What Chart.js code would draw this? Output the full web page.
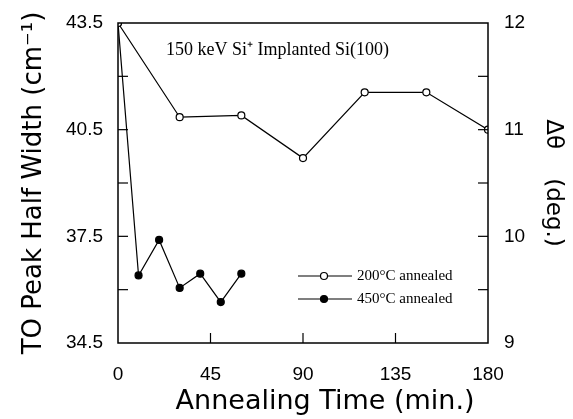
<!DOCTYPE html>
<html>
<head>
<meta charset="utf-8">
<script src="https://cdn.jsdelivr.net/npm/chart.js@4"></script>
<style>
    html, body { margin: 0; padding: 0; background: #fff; }
    #wrap { width: 573px; height: 419px; }
</style>
</head>
<body>
<div id="wrap"><canvas id="Grafico1" width="573" height="419"></canvas></div>
<script>
let tiempo200 = [0, 30, 60, 90, 120, 150, 180];
let ancho200 = [43.5, 40.85, 40.9, 39.7, 41.55, 41.55, 40.5];
let tiempo450 = [0, 10, 20, 30, 40, 50, 60];
let ancho450 = [43.5, 36.4, 37.4, 36.05, 36.45, 35.65, 36.45];
let etiquetas = ['200°C annealed', '450°C annealed'];
let titulo = '150 keV Si\u207A Implanted Si(100)';

function puntos(xs, ys) {
    let lista = [];
    for (let i = 0; i < xs.length; i++) {
        lista.push({ x: xs[i], y: ys[i] });
    }
    return lista;
}

// marco, ticks hacia adentro, texto y leyenda dentro del grafico
let extras = {
    id: 'extras',
    afterDatasetsDraw(chart) {
        let ctx = chart.ctx;
        let a = chart.chartArea;
        ctx.save();
        ctx.strokeStyle = '#000';
        ctx.lineWidth = 1.5;
        ctx.strokeRect(a.left, a.top, a.right - a.left, a.bottom - a.top);

        ctx.lineWidth = 1.2;
        let sx = chart.scales.x;
        sx.ticks.forEach(t => {
            if (t.value <= sx.min || t.value >= sx.max) return;
            let px = sx.getPixelForValue(t.value);
            ctx.beginPath(); ctx.moveTo(px, a.bottom); ctx.lineTo(px, a.bottom - 10); ctx.stroke();
        });
        let sy = chart.scales.y;
        sy.ticks.forEach(t => {
            if (t.value <= sy.min || t.value >= sy.max) return;
            let py = sy.getPixelForValue(t.value);
            ctx.beginPath(); ctx.moveTo(a.left, py); ctx.lineTo(a.left + 10, py); ctx.stroke();
        });
        let sy1 = chart.scales.y1;
        sy1.ticks.forEach(t => {
            if (t.value <= sy1.min || t.value >= sy1.max) return;
            let py = sy1.getPixelForValue(t.value);
            ctx.beginPath(); ctx.moveTo(a.right, py); ctx.lineTo(a.right - 10, py); ctx.stroke();
        });

        ctx.fillStyle = '#000';
        ctx.font = '18px "Liberation Serif"';
        ctx.textBaseline = 'middle';
        ctx.textAlign = 'left';
        ctx.fillText(titulo, 166, 50);

        // leyenda
        ctx.font = '15px "Liberation Serif"';
        chart.data.datasets.forEach((ds, i) => {
            let y = 276 + i * 23;
            ctx.lineWidth = 1.2;
            ctx.beginPath(); ctx.moveTo(298, y); ctx.lineTo(352, y); ctx.stroke();
            ctx.beginPath();
            ctx.arc(324, y, 3.5, 0, Math.PI * 2);
            ctx.fillStyle = ds.pointBackgroundColor;
            ctx.fill();
            ctx.stroke();
            ctx.fillStyle = '#000';
            ctx.fillText(ds.label, 357, y);
        });
        ctx.restore();
    }
};

// quitar el relleno que agrega chart.js por las etiquetas, para fijar el area
function sinRelleno(scale) {
    scale.paddingTop = 0;
    scale.paddingBottom = 0;
    scale.paddingLeft = 0;
    scale.paddingRight = 0;
}

let fuente = { family: '"Liberation Sans"', size: 19 };
let CanvasG1 = document.getElementById('Grafico1').getContext('2d');
let datos = {
    datasets: [{
            label: etiquetas[0],
            data: puntos(tiempo200, ancho200),
            showLine: true,
            borderColor: '#000',
            borderWidth: 1.2,
            pointRadius: 3.5,
            pointBorderWidth: 1.2,
            pointBackgroundColor: '#fff',
            pointBorderColor: '#000',
            yAxisID: 'y'
        },
        {
            label: etiquetas[1],
            data: puntos(tiempo450, ancho450),
            showLine: true,
            borderColor: '#000',
            borderWidth: 1.2,
            pointRadius: 3.5,
            pointBorderWidth: 1.2,
            pointBackgroundColor: '#000',
            pointBorderColor: '#000',
            yAxisID: 'y'
        }
    ]
}
let opciones = {
    responsive: false,
    animation: false,
    maintainAspectRatio: false,
    layout: { padding: { top: 23, left: 0, right: 0, bottom: 0 } },
    plugins: {
        legend: { display: false },
        tooltip: { enabled: false }
    },
    scales: {
        x: {
            type: 'linear',
            min: 0,
            max: 180,
            grid: { display: false, drawTicks: false },
            border: { display: false },
            ticks: { stepSize: 45, color: '#000', font: fuente, padding: 20 },
            title: {
                display: true,
                text: 'Annealing Time (min.)\u2002',
                align: 'end',
                color: '#000',
                font: { family: '"DejaVu Sans"', size: 27 },
                padding: 1
            },
            afterFit(scale) { sinRelleno(scale); scale.height = 76; }
        },
        y: {
            position: 'left',
            min: 34.5,
            max: 43.5,
            grid: { display: false, drawTicks: false },
            border: { display: false },
            ticks: {
                stepSize: 1.5,
                color: '#000',
                font: fuente,
                padding: 15,
                callback: function (v) {
                    let k = Math.round((v - 34.5) / 1.5);
                    return k % 2 == 0 ? v.toFixed(1) : '';
                }
            },
            title: {
                display: true,
                text: 'TO Peak Half Width (cm\u207B\u00B9)',
                color: '#000',
                font: { family: '"DejaVu Sans"', size: 26 },
                padding: 19
            },
            afterFit(scale) { sinRelleno(scale); scale.width = 118; }
        },
        y1: {
            position: 'right',
            min: 9,
            max: 12,
            grid: { display: false, drawTicks: false },
            border: { display: false },
            ticks: {
                stepSize: 0.5,
                color: '#000',
                font: fuente,
                padding: 16,
                callback: function (v) {
                    return Number.isInteger(v) ? String(v) : '';
                }
            },
            title: {
                display: true,
                text: '\u0394\u03B8    (deg.)',
                color: '#000',
                font: { family: '"DejaVu Sans"', size: 23 },
                padding: 6
            },
            afterFit(scale) { sinRelleno(scale); scale.width = 85; }
        }
    }
}
let G1 = new Chart(CanvasG1, {
    type: 'scatter',
    data: datos,
    options: opciones,
    plugins: [extras]
});
</script>
</body>
</html>
